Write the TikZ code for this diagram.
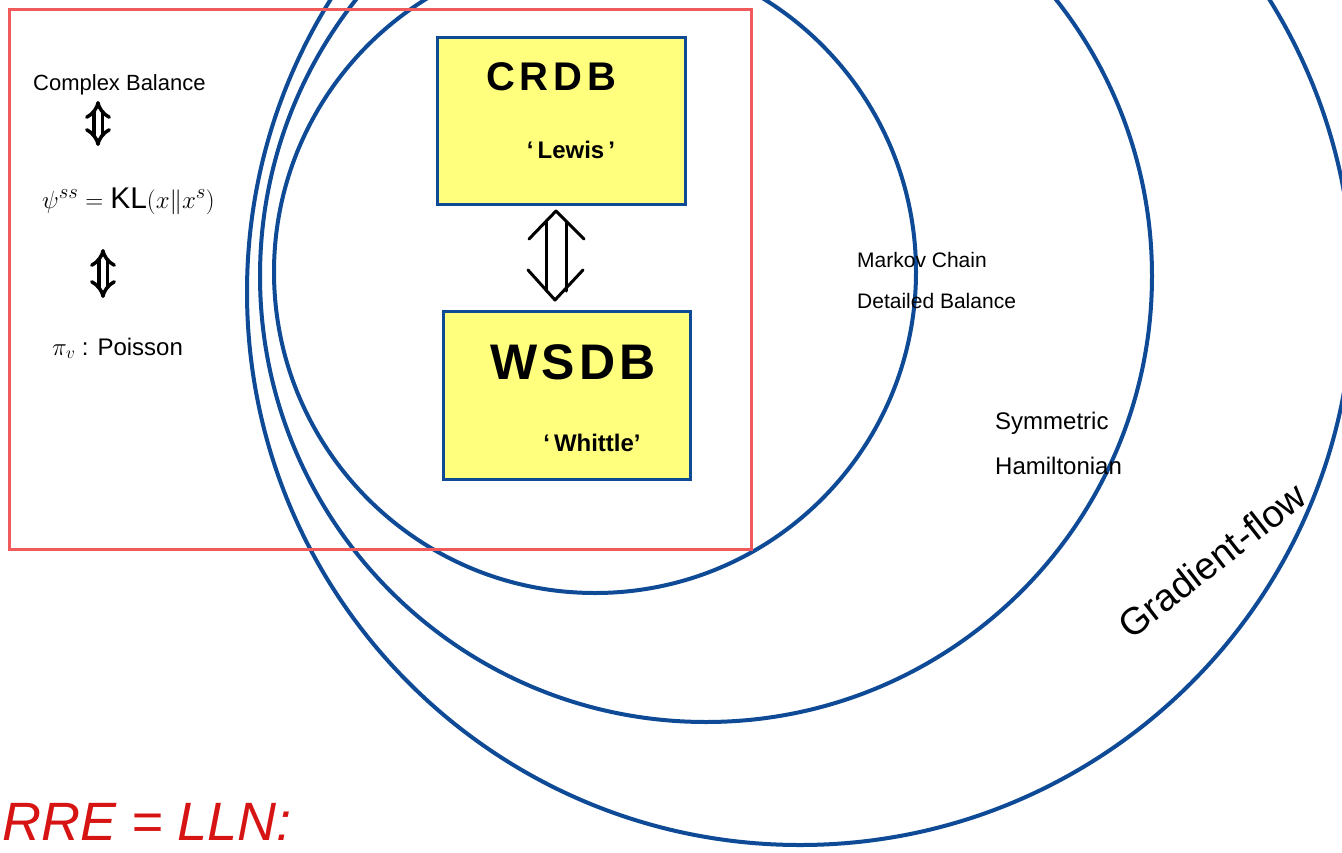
\documentclass[tikz,border=0pt]{standalone}
\usepackage{fontspec}
\setmainfont{Liberation Sans}
\usetikzlibrary{arrows.meta}
\definecolor{cblue}{RGB}{14,74,150}
\definecolor{cred}{RGB}{240,90,90}
\definecolor{cyel}{RGB}{255,255,125}
\definecolor{ctxtred}{RGB}{215,20,20}
\tikzset{
  ring/.style={draw=cblue, line width=4pt},
  ybox/.style={draw=cblue, fill=cyel, line width=3pt, rectangle, inner sep=0pt},
  hand/.style={inner sep=0pt, text=black},
  dblarrow/.style={double, double distance=#1, line width=3.5pt, {Implies}-{Implies}},
  openarrow/.style={draw=black, line width=3pt, line cap=round, line join=round},
}
\begin{document}
\begin{tikzpicture}[x=1pt,y=-1pt]
\useasboundingbox (0,0) rectangle (1342,852);
\clip (0,0) rectangle (1342,852);
\fill[white] (0,0) rectangle (1342,852);
% circles
\draw[ring] (595,272) circle[radius=321];
\draw[ring] (706,276) circle[radius=446];
\draw[ring] (800,292) circle[radius=553];
% red frame
\draw[cred, line width=3pt] (9,9) rectangle (751,549);
% boxes
\node[ybox, minimum width=248pt, minimum height=167pt] (crdb) at (561,120.5) {};
\node[ybox, minimum width=247pt, minimum height=168pt] (wsdb) at (566.5,395) {};
\node[hand, anchor=base] (crdbt) at (551,90) {\fontsize{40}{44}\selectfont\bfseries\addfontfeature{LetterSpace=12}CRDB};
\node[hand, anchor=base] (lewis) at (571,158) {\fontsize{24}{28}\selectfont\bfseries ‘\,Lewis\,’};
\node[hand, anchor=base] (wsdbt) at (573,379) {\fontsize{50}{54}\selectfont\bfseries\addfontfeature{LetterSpace=8}WSDB};
\node[hand, anchor=base] (whittle) at (592,451) {\fontsize{24}{28}\selectfont\bfseries ‘\,Whittle’};
% open double arrow between boxes
\coordinate (tipA) at (556,211);
\coordinate (tipB) at (555,300);
\coordinate (sA1) at (546,222);
\coordinate (sB1) at (546,291);
\coordinate (sA2) at (566,222);
\coordinate (sB2) at (566,291);
\draw[openarrow] (sA1) -- (sB1);
\draw[openarrow] (sA2) -- (sB2);
\draw[openarrow] (529,239) -- (tipA) -- (584,239);
\draw[openarrow] (528,270) -- (tipB) -- (583,270);
% left column
\node[hand, anchor=base west] (cb) at (33,90) {\fontsize{22}{26}\selectfont Complex Balance};
\node[hand, anchor=base west] (kl) at (42,208) {\fontsize{30}{33}\selectfont $\psi^{ss}=\mathrm{KL}(x\|x^{s})$};
\node[hand, anchor=base west] (pv) at (52,355) {\fontsize{24}{28}\selectfont $\pi_{v}$ : Poisson};
\coordinate (l1) at (98,101);
\coordinate (l2) at (98,146);
\coordinate (l3) at (103,249);
\coordinate (l4) at (103,298);
\draw[dblarrow=5pt] (l1) -- (l2);
\draw[dblarrow=5pt] (l3) -- (l4);
% circle labels
\node[hand, anchor=base west, align=left, font=\fontsize{21}{41}\selectfont] (mc) at (857,308) {Markov Chain\\Detailed Balance};
\node[hand, anchor=base west, align=left, font=\fontsize{24}{45}\selectfont] (sh) at (995,474) {Symmetric\\Hamiltonian};
\node[hand, rotate=38, font=\fontsize{38}{42}\selectfont] (gf) at (1212,560) {Gradient-flow};
% bottom red
\node[hand, anchor=base west, text=ctxtred, font=\fontsize{54}{58}\selectfont\itshape] (rre) at (2,840) {RRE = LLN:};
\end{tikzpicture}
\end{document}
